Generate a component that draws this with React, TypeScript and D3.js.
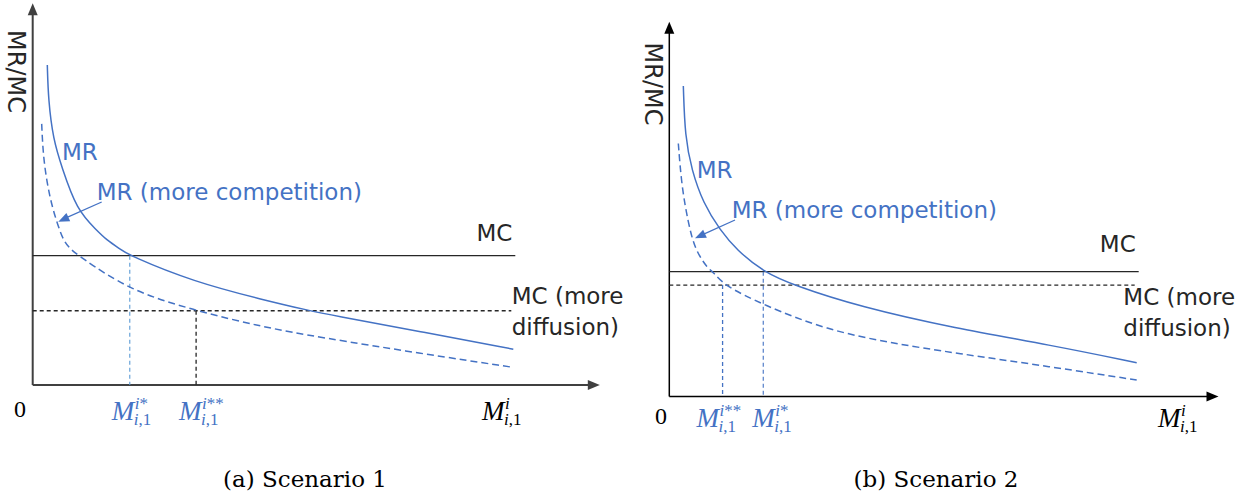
import React from 'react';
import * as d3 from 'd3';

const W = 1246;
const H = 497;

// values, in plot units:
// x 0..100 = origin .. end of the curves, y 0..100 = x axis .. top of the MR curve
const mrA: [number, number][] = [
  [3.04, 100], [3.25, 89.1], [4.29, 76.6], [6.03, 68.2], [9.16, 54.7], [13.3, 48.4],
  [15.4, 45.3], [18.2, 42.5], [20.2, 40.4], [33.4, 32.3], [48.0, 26.6], [57.7, 23.2],
  [61.9, 21.9], [80.6, 16.7], [100, 11.2],
];
const mrCompA: [number, number][] = [
  [1.87, 81.6], [2.21, 70.3], [3.6, 57.8], [5.33, 49.5], [6.37, 45.3], [7.76, 42.5],
  [9.84, 40.1], [20.2, 29.5], [34.0, 23.2], [47.9, 18.1], [59.8, 14.9], [80.6, 9.9], [100, 5.5],
];
const mcA = 40.4;
const mcDiffA = 23.2;
const eqStarA = 20.2;
const eqStarStarA = 34.0;

const mrB: [number, number][] = [
  [3.0, 100], [3.36, 83.7], [4.79, 72.9], [7.27, 62.2], [10.85, 53.6], [14.4, 47.2],
  [20.1, 40.2], [26.5, 35.9], [40.8, 28.9], [61.1, 22.0], [81.5, 16.6], [100, 10.9],
];
const mrCompB: [number, number][] = [
  [1.93, 81.5], [2.65, 67.6], [4.07, 55.8], [5.5, 47.2], [8.34, 41.0], [9.41, 40.2],
  [11.55, 35.9], [20.1, 29.5], [33.7, 21.4], [47.9, 17.1], [61.1, 14.0], [81.5, 9.6], [100, 5.3],
];
const mcB = 40.2;
const mcDiffB = 35.9;
const eqStarB = 20.1;
const eqStarStarB = 11.4;

const captions = ['(a) Scenario 1', '(b) Scenario 2'];

const BLUE = '#4472C4';
const LIGHTBLUE = '#5B9BD5';
const DARK = '#262626';
const SANS = 'DejaVu Sans';
const MATH = 'Liberation Serif';

const arrowHead = (x1: number, y1: number, x2: number, y2: number, len: number, half: number) => {
  const a = Math.atan2(y2 - y1, x2 - x1);
  const bx = x2 - len * Math.cos(a);
  const by = y2 - len * Math.sin(a);
  const px = -Math.sin(a) * half;
  const py = Math.cos(a) * half;
  return `M${x2},${y2}L${bx + px},${by + py}L${bx - px},${by - py}Z`;
};

// M with a superscript and the "i,1" subscript stacked under it, as one text
const MLabel = ({ x, y, sup, color }: { x: number; y: number; sup: string; color: string }) => (
  <text x={x} y={y} fill={color} fontFamily={MATH} fontSize={27}>
    <tspan fontStyle="italic">M</tspan>
    <tspan x={x + 23} dy={-11} fontSize={17} fontStyle="italic">i</tspan>
    <tspan fontSize={17}>{sup}</tspan>
    <tspan x={x + 22} dy={16} fontSize={17} fontStyle="italic">i</tspan>
    <tspan fontSize={17}>,1</tspan>
  </text>
);

type PanelProps = {
  left: number; right: number; bottom: number; top: number;
  xEnd: number; yEnd: number; axisColor: string; axisWidth: number;
  mr: [number, number][]; mrComp: [number, number][];
  mc: number; mcDiff: number;
  eqStar: number; eqStarStar: number; starStarColor: string;
  labelY: number; yLabelX: number; yLabelY: number;
  mrLabel: [number, number]; compLabel: [number, number]; arrow: [number, number, number, number];
  mcLabelY: number; diffLabel: [number, number]; zeroX: number;
  starOffset: number; starStarOffset: number; mEndX: number;
};

const Panel = (p: PanelProps) => {
  const x = d3.scaleLinear().domain([0, 100]).range([p.left, p.right]);
  const y = d3.scaleLinear().domain([0, 100]).range([p.bottom, p.top]);
  const line = d3.line<[number, number]>().x(d => x(d[0])).y(d => y(d[1])).curve(d3.curveBasis);
  const x0 = x(0), y0 = y(0), xe = x(p.xEnd), ye = y(p.yEnd);
  const [ax1, ay1, ax2, ay2] = p.arrow;
  return (
    <g>
      {/* axes */}
      <line x1={x0} y1={y0} x2={xe - 8} y2={y0} stroke={p.axisColor} strokeWidth={p.axisWidth} />
      <path d={arrowHead(x0, y0, xe, y0, 12, 5)} fill={p.axisColor} />
      <line x1={x0} y1={y0} x2={x0} y2={ye + 8} stroke={p.axisColor} strokeWidth={p.axisWidth} />
      <path d={arrowHead(x0, y0, x0, ye, 12, 5)} fill={p.axisColor} />

      {/* MC lines */}
      <line x1={x0} x2={x(100) + 2} y1={y(p.mc)} y2={y(p.mc)} stroke={DARK} strokeWidth={1.3} />
      <line x1={x0} x2={x(100) - 2} y1={y(p.mcDiff)} y2={y(p.mcDiff)} stroke={DARK} strokeWidth={1.3} strokeDasharray="4 3" />

      {/* equilibrium drop lines */}
      <line x1={x(p.eqStar)} x2={x(p.eqStar)} y1={y(p.mc)} y2={y0} stroke={p.starStarColor === DARK ? LIGHTBLUE : BLUE} strokeWidth={1.1} strokeDasharray="4 3" />
      <line x1={x(p.eqStarStar)} x2={x(p.eqStarStar)} y1={y(p.mcDiff)} y2={y0} stroke={p.starStarColor} strokeWidth={1.3} strokeDasharray="4 3" />

      {/* MR curves */}
      <path d={line(p.mr) ?? ''} fill="none" stroke={BLUE} strokeWidth={1.5} />
      <path d={line(p.mrComp) ?? ''} fill="none" stroke={BLUE} strokeWidth={1.5} strokeDasharray="7 4" />

      {/* annotations */}
      <g fontFamily={SANS} fontSize={23}>
        <text x={p.mrLabel[0]} y={p.mrLabel[1]} fill={BLUE}>MR</text>
        <text x={p.compLabel[0]} y={p.compLabel[1]} fill={BLUE}>MR (more competition)</text>
        <text x={x(100) - 1} y={p.mcLabelY} fill={DARK} textAnchor="end">MC</text>
        <text x={p.diffLabel[0]} y={p.diffLabel[1]} fill={DARK}>MC (more</text>
        <text x={p.diffLabel[0]} y={p.diffLabel[1] + 31} fill={DARK}>diffusion)</text>
        <text transform={`translate(${p.yLabelX},${p.yLabelY}) rotate(90)`} textAnchor="middle" fill={DARK} fontSize={24}>MR/MC</text>
      </g>
      <line x1={ax1} y1={ay1} x2={ax2 + 6} y2={ay2 - 3} stroke={BLUE} strokeWidth={1.3} />
      <path d={arrowHead(ax1, ay1, ax2, ay2, 11, 4.5)} fill={BLUE} />

      {/* tick labels */}
      <text x={p.zeroX} y={p.labelY - 3} fontFamily={MATH} fontSize={24} textAnchor="middle" fill="#000">0</text>
      <MLabel x={x(p.eqStar) + p.starOffset} y={p.labelY} sup="*" color={BLUE} />
      <MLabel x={x(p.eqStarStar) + p.starStarOffset} y={p.labelY} sup="**" color={BLUE} />
      <MLabel x={p.mEndX} y={p.labelY} sup="" color="#000" />
    </g>
  );
};

export default function App() {
  return (
    <svg width={W} height={H} style={{ display: 'block', position: 'absolute', left: 0, top: 0, background: '#fff' }}>
      <rect width={W} height={H} fill="#fff" />
      <Panel
        left={32.7} right={513.3} bottom={385} top={65} xEnd={118} yEnd={119.3}
        axisColor="#404040" axisWidth={2}
        mr={mrA} mrComp={mrCompA} mc={mcA} mcDiff={mcDiffA}
        eqStar={eqStarA} eqStarStar={eqStarStarA} starStarColor={DARK}
        labelY={420} yLabelX={8} yLabelY={71.5}
        mrLabel={[62, 160]} compLabel={[96.7, 200]} arrow={[101.7, 202, 58.3, 221.7]}
        mcLabelY={241} diffLabel={[511.7, 304]} zeroX={20}
        starOffset={-18} starStarOffset={-17} mEndX={482}
      />
      <Panel
        left={669.3} right={1136.7} bottom={396.5} top={86} xEnd={117.5} yEnd={120.7}
        axisColor="#000" axisWidth={1.5}
        mr={mrB} mrComp={mrCompB} mc={mcB} mcDiff={mcDiffB}
        eqStar={eqStarB} eqStarStar={eqStarStarB} starStarColor={BLUE}
        labelY={427} yLabelX={645} yLabelY={84}
        mrLabel={[696.7, 178.3]} compLabel={[731.7, 218.3]} arrow={[735, 220, 695, 238.3]}
        mcLabelY={251.7} diffLabel={[1123.3, 305]} zeroX={661}
        starOffset={-11} starStarOffset={-26} mEndX={1158}
      />
      <g fontFamily="DejaVu Serif" fontSize={23} fill="#000" textAnchor="middle">
        <text x={305} y={487}>{captions[0]}</text>
        <text x={936} y={487}>{captions[1]}</text>
      </g>
    </svg>
  );
}
